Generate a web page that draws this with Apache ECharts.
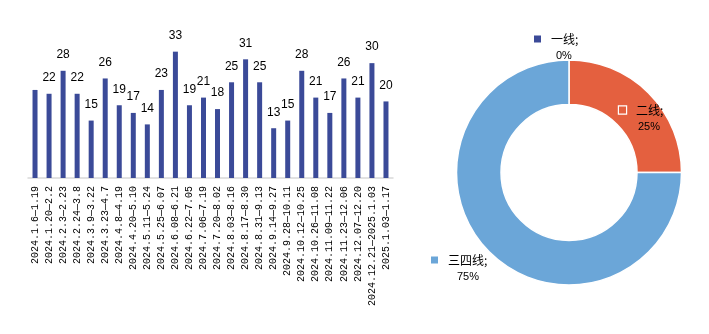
<!DOCTYPE html>
<html><head><meta charset="utf-8">
<script src="https://cdn.jsdelivr.net/npm/echarts@6/dist/echarts.min.js"></script>
<style>html,body{margin:0;padding:0;background:#fff}#c{width:709px;height:334px}</style>
</head><body><div id="c"></div>
<script>
const categories = ["2024.1.6—1.19","2024.1.20—2.2","2024.2.3—2.23","2024.2.24—3.8","2024.3.9—3.22","2024.3.23—4.7","2024.4.8—4.19","2024.4.20—5.10","2024.5.11—5.24","2024.5.25—6.07","2024.6.08—6.21","2024.6.22—7.05","2024.7.06—7.19","2024.7.20—8.02","2024.8.03—8.16","2024.8.17—8.30","2024.8.31—9.13","2024.9.14—9.27","2024.9.28—10.11","2024.10.12—10.25","2024.10.26—11.08","2024.11.09—11.22","2024.11.23—12.06","2024.12.07—12.20","2024.12.21—2025.1.03","2025.1.03—1.17"];
const barValues = [23,22,28,22,15,26,19,17,14,23,33,19,21,18,25,31,25,13,15,28,21,17,26,21,30,20];
const hiddenLabelIndex = [0];
const pieNames = ["一线","二线","三四线"];
const pieValues = [0,25,75];
const pieColors = ["#3B4A98","#E4603F","#6BA6D8"];

const chart = echarts.init(document.getElementById('c'), null, {renderer:'canvas'});
const labelPos = [
  {x:534, y:47},
  {x:619, y:118},
  {x:431, y:268}
];
const gapW = [22, 19, 26];
const rich = {};
pieNames.forEach((n,i)=>{
  rich['m'+i] = {width:7,height:7,backgroundColor:pieColors[i],borderColor:i===1?'#fff':pieColors[i],borderWidth:i===1?1.2:0};
  rich['s'+i] = {width:10};
  rich['n'+i] = {fontSize:12,color:'#000',fontFamily:'Noto Sans CJK SC',lineHeight:18};
  rich['g'+i] = {width:gapW[i]};
  rich['p'+i] = {fontSize:11,color:'#000',fontFamily:'Liberation Sans',lineHeight:16};
});
chart.setOption({
  animation:false,
  grid:{left:28,right:316,top:44,bottom:156},
  xAxis:{type:'category',data:categories,
    axisLine:{lineStyle:{color:'#D9D9D9',width:1.5}},
    axisTick:{show:false},
    axisLabel:{rotate:90,interval:0,margin:8,fontSize:10,color:'#000',fontFamily:'Liberation Mono'}},
  yAxis:{type:'value',min:0,max:35,show:false,splitLine:{show:false}},
  series:[{
    type:'bar',barWidth:5,
    data:barValues.map((v,i)=>hiddenLabelIndex.includes(i)?{value:v,label:{show:false}}:v),
    itemStyle:{color:'#3B4A98'},
    label:{show:true,position:'top',distance:10,fontSize:12,color:'#000',fontFamily:'Liberation Sans'}
  },{
    type:'pie',center:[569,172.5],radius:[68,112.5],startAngle:90,clockwise:true,
    data:pieNames.map((n,i)=>({name:n,value:pieValues[i],itemStyle:{color:pieColors[i]}})),
    itemStyle:{borderColor:'#fff',borderWidth:1.5},
    label:{show:true,position:'outside',align:'left',overflow:'none',
      formatter:p=>{const i=p.dataIndex;return '{m'+i+'|}{s'+i+'|}{n'+i+'|'+p.name+';}\n{g'+i+'|}{p'+i+'|'+Math.round(p.percent)+'%}';},
      rich:rich},
    labelLine:{show:false},
    labelLayout:p=>({x:labelPos[p.dataIndex].x,y:labelPos[p.dataIndex].y,align:'left',verticalAlign:'middle'})
  }]
});
</script></body></html>
